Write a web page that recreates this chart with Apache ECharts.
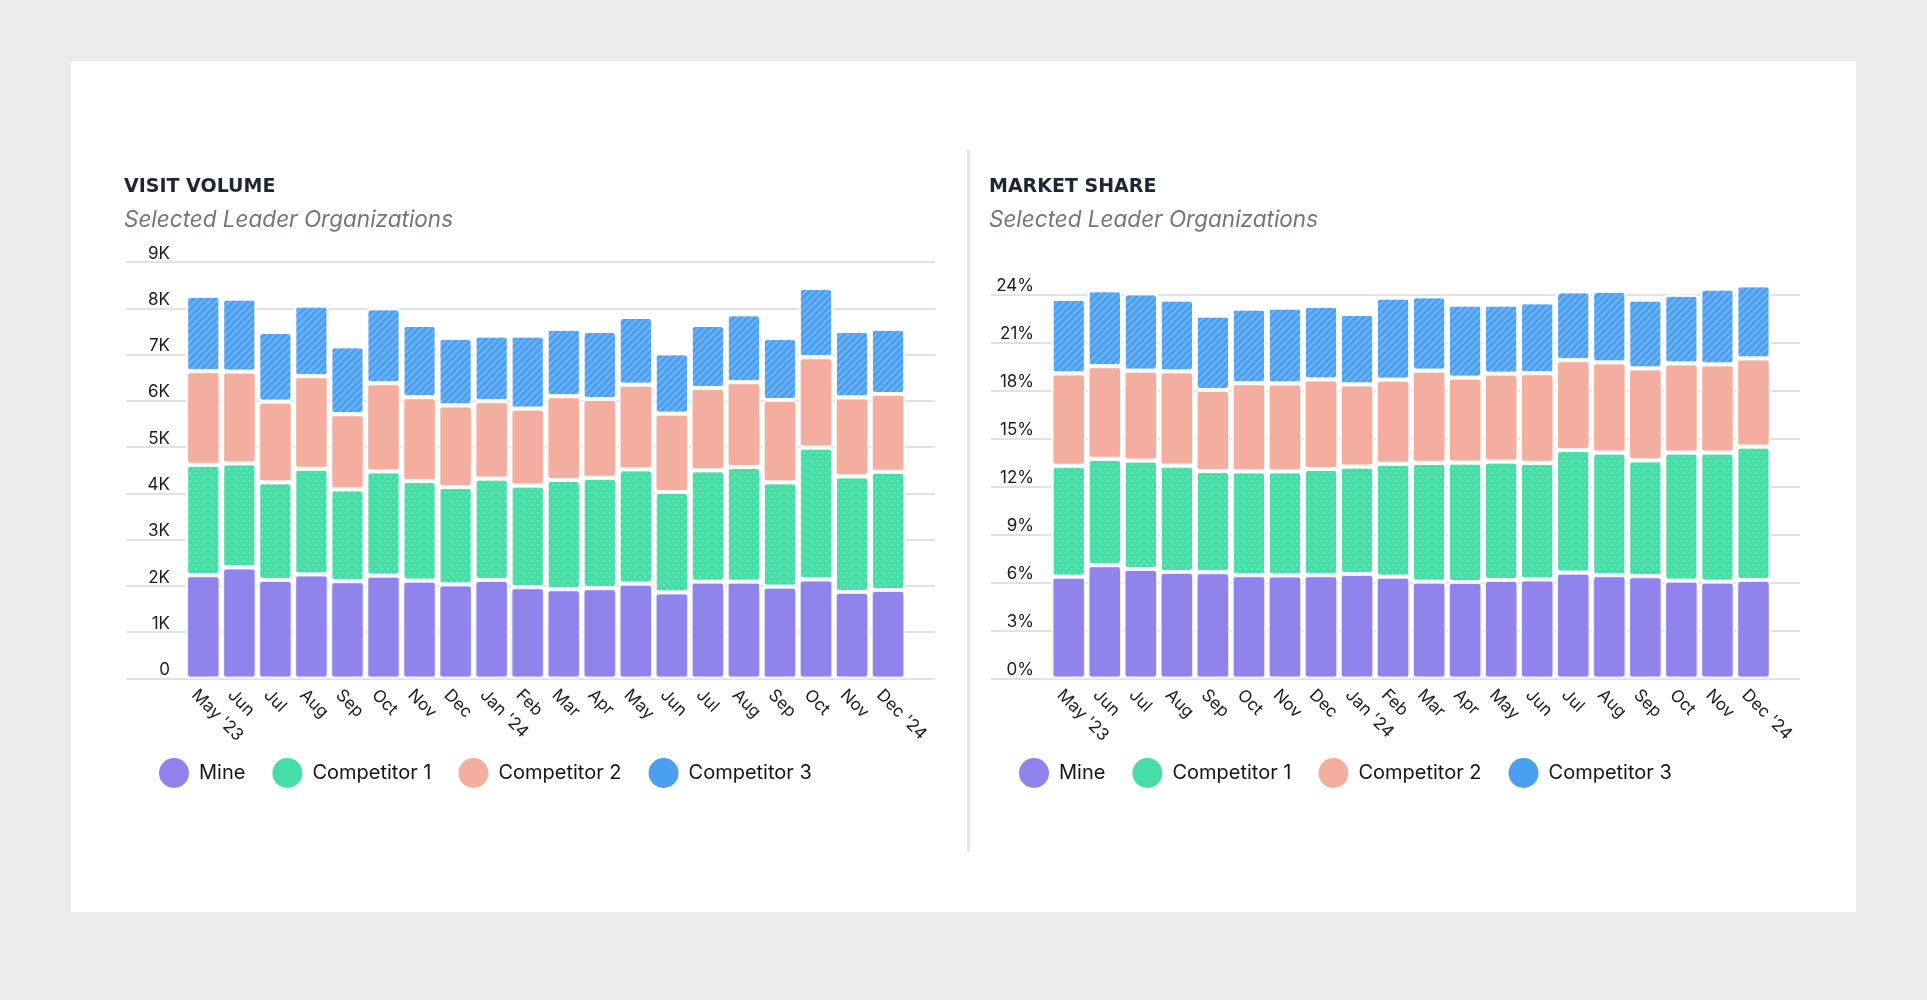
<!DOCTYPE html>
<html>
<head>
<meta charset="utf-8">
<title>Visit Volume / Market Share</title>
<script src="https://cdn.jsdelivr.net/npm/echarts@6/dist/echarts.min.js"></script>
<style>
    html, body { margin: 0; padding: 0; background: #ebebeb; }
    #main { width: 1927px; height: 1000px; }
</style>
</head>
<body>
<div id="main"></div>
<script>
// ------------------------------ data -----------------------------------------
var months = ["May '23", 'Jun', 'Jul', 'Aug', 'Sep', 'Oct', 'Nov', 'Dec', "Jan '24", 'Feb',
    'Mar', 'Apr', 'May', 'Jun', 'Jul', 'Aug', 'Sep', 'Oct', 'Nov', "Dec '24"];
var seriesNames = ['Mine', 'Competitor 1', 'Competitor 2', 'Competitor 3'];

// visit volume (visits)
var volMine = [2230, 2400, 2130, 2250, 2100, 2220, 2110, 2030, 2130, 1970, 1930, 1950, 2050, 1860, 2090, 2090, 1980, 2140, 1870, 1910];
var volComp1 = [2390, 2250, 2110, 2280, 1990, 2260, 2160, 2110, 2190, 2200, 2360, 2390, 2470, 2170, 2410, 2480, 2260, 2850, 2500, 2560];
var volComp2 = [2020, 1980, 1740, 2000, 1620, 1900, 1810, 1760, 1670, 1660, 1810, 1700, 1830, 1690, 1780, 1830, 1780, 1950, 1700, 1680];
var volComp3 = [1630, 1580, 1510, 1530, 1470, 1620, 1560, 1460, 1420, 1580, 1460, 1470, 1460, 1310, 1360, 1470, 1340, 1500, 1440, 1410];

// market share (%)
var shareMine = [6.36, 7.07, 6.84, 6.66, 6.63, 6.45, 6.43, 6.45, 6.53, 6.35, 6.05, 6.03, 6.16, 6.18, 6.61, 6.45, 6.39, 6.11, 6.05, 6.16];
var shareComp1 = [6.93, 6.66, 6.78, 6.65, 6.33, 6.49, 6.51, 6.63, 6.72, 7.07, 7.43, 7.47, 7.40, 7.30, 7.66, 7.67, 7.25, 8.01, 8.07, 8.34];
var shareComp2 = [5.76, 5.78, 5.60, 5.87, 5.07, 5.51, 5.49, 5.60, 5.12, 5.25, 5.74, 5.28, 5.47, 5.59, 5.61, 5.62, 5.72, 5.56, 5.49, 5.49];
var shareComp3 = [4.68, 4.74, 4.84, 4.49, 4.64, 4.66, 4.74, 4.61, 4.40, 5.13, 4.66, 4.58, 4.33, 4.43, 4.31, 4.49, 4.31, 4.30, 4.75, 4.57];

// ------------------------------ styles -----------------------------------------
var colors = ['#9083ec', '#47dda6', '#f3ae9f', '#4a9ff0'];
var decals = [
    null,
    // dotted
    { symbol: 'circle', color: 'rgba(255,255,255,0.4)', dashArrayX: [[2, 4], [0, 3, 2, 1]], dashArrayY: [2, 1.4], symbolSize: 0.8 },
    null,
    // striped (/)
    { symbol: 'rect', color: 'rgba(255,255,255,0.22)', dashArrayX: [1, 0], dashArrayY: [1.6, 2.6], rotation: -Math.PI / 4 }
];
var font = 'Inter, "Noto Sans", sans-serif';
var gridColor = '#d6d9de';

var chartDom = document.getElementById('main');
var myChart = echarts.init(chartDom, null, { renderer: 'canvas' });

function makeSeries(name, idx, values, axisIdx, stack) {
    var itemStyle = {
        color: colors[idx],
        borderColor: 'rgba(255,255,255,0.85)',
        borderWidth: 2,
        borderRadius: 3
    };
    if (decals[idx]) itemStyle.decal = decals[idx];
    return {
        name: name,
        type: 'bar',
        stack: stack,
        xAxisIndex: axisIdx,
        yAxisIndex: axisIdx,
        barCategoryGap: '4.5%',
        itemStyle: itemStyle,
        emphasis: { disabled: true },
        data: values
    };
}

function legendOpt(left) {
    return {
        left: left,
        top: 758,
        padding: 0,
        icon: 'circle',
        itemWidth: 30,
        itemHeight: 30,
        itemGap: 27,
        selectedMode: false,
        itemStyle: { borderWidth: 0, decal: 'none' },
        textStyle: { fontFamily: font, fontSize: 20, color: '#151515', padding: [0, 0, 0, 5] },
        data: seriesNames
    };
}

// value labels sit just above their split line: the empty second line
// pushes the visible text up by half a line
var yLabel = {
    inside: false,
    margin: -44,
    align: 'right',
    verticalAlign: 'middle',
    lineHeight: 17,
    fontFamily: font,
    fontSize: 17,
    color: '#1c1c1c'
};

var xLabel = {
    interval: 0,
    rotate: -45,
    margin: 5,
    verticalAlign: 'top',
    padding: [4, 0, 0, 0],
    fontFamily: font,
    fontSize: 17,
    color: '#1c1c1c'
};

var titleStyle = { fontFamily: '"DejaVu Sans", sans-serif', fontWeight: 'bold', fontSize: 19, color: '#1e2535' };
var subStyle = { fontFamily: font, fontStyle: 'italic', fontSize: 22.5, color: '#6f7682' };

var option = {
    backgroundColor: 'transparent',
    animation: false,
    graphic: [
        { type: 'rect', z: -10, shape: { x: 71, y: 61, width: 1785, height: 851 }, style: { fill: '#ffffff' } },
        { type: 'rect', z: -9, shape: { x: 967, y: 150, width: 3, height: 702 }, style: { fill: '#e4e6ea' } }
    ],
    title: [
        {
            text: 'VISIT VOLUME',
            subtext: 'Selected Leader Organizations',
            left: 124, top: 177.5, padding: 0, itemGap: 12,
            textStyle: titleStyle,
            subtextStyle: subStyle
        },
        {
            text: 'MARKET SHARE',
            subtext: 'Selected Leader Organizations',
            left: 989, top: 177.5, padding: 0, itemGap: 12,
            textStyle: titleStyle,
            subtextStyle: subStyle
        }
    ],
    legend: [legendOpt(159), legendOpt(1019)],
    grid: [
        // frame grids carry the split lines and value labels
        { left: 126, top: 262, width: 809, height: 416.5 },
        // bar grids
        { left: 185.3, top: 262, width: 720.8, height: 416.5 },
        { left: 991, top: 294.3, width: 809, height: 384.2 },
        { left: 1050.7, top: 278.3, width: 720.8, height: 400.2 }
    ],
    xAxis: [
        { gridIndex: 0, type: 'value', show: false },
        {
            gridIndex: 1, type: 'category', data: months,
            axisLine: { show: false }, axisTick: { show: false }, axisLabel: xLabel
        },
        { gridIndex: 2, type: 'value', show: false },
        {
            gridIndex: 3, type: 'category', data: months,
            axisLine: { show: false }, axisTick: { show: false }, axisLabel: xLabel
        }
    ],
    yAxis: [
        {
            gridIndex: 0, type: 'value', min: 0, max: 9000, interval: 1000,
            axisLine: { show: false }, axisTick: { show: false },
            splitLine: { lineStyle: { color: gridColor, width: 1.5 } },
            axisLabel: Object.assign({}, yLabel, {
                formatter: function (v) { return (v === 0 ? '0' : (v / 1000) + 'K') + '\n'; }
            })
        },
        { gridIndex: 1, type: 'value', min: 0, max: 9000, show: false },
        {
            gridIndex: 2, type: 'value', min: 0, max: 24, interval: 3,
            axisLine: { show: false }, axisTick: { show: false },
            splitLine: { lineStyle: { color: gridColor, width: 1.5 } },
            axisLabel: Object.assign({}, yLabel, {
                margin: -43,
                formatter: function (v) { return v + '%\n'; }
            })
        },
        { gridIndex: 3, type: 'value', min: 0, max: 25, show: false }
    ],
    series: [
        makeSeries(seriesNames[0], 0, volMine, 1, 'volume'),
        makeSeries(seriesNames[1], 1, volComp1, 1, 'volume'),
        makeSeries(seriesNames[2], 2, volComp2, 1, 'volume'),
        makeSeries(seriesNames[3], 3, volComp3, 1, 'volume'),
        makeSeries(seriesNames[0], 0, shareMine, 3, 'share'),
        makeSeries(seriesNames[1], 1, shareComp1, 3, 'share'),
        makeSeries(seriesNames[2], 2, shareComp2, 3, 'share'),
        makeSeries(seriesNames[3], 3, shareComp3, 3, 'share')
    ]
};

option && myChart.setOption(option);

window.onresize = function () {
    myChart.resize();
};
</script>
</body>
</html>
